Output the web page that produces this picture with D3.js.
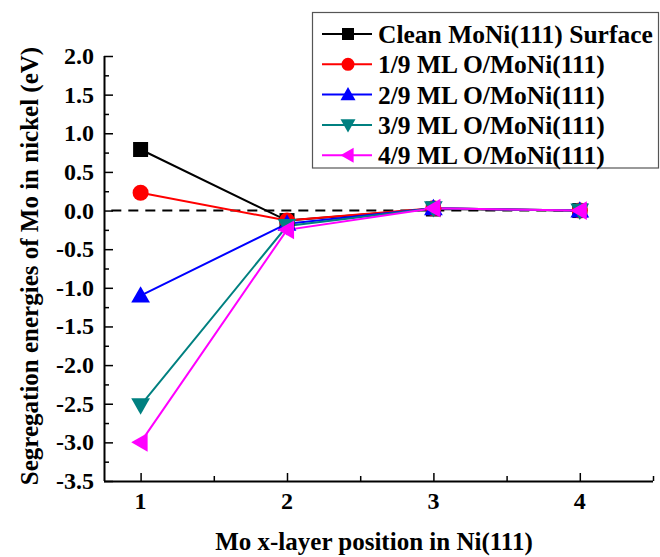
<!DOCTYPE html>
<html>
<head>
<meta charset="utf-8">
<script src="https://cdn.jsdelivr.net/npm/d3@7"></script>
<style>
body { margin: 0; background: #fff; }
</style>
</head>
<body>
<div class="contents"></div>
<script>
var width = 660;
var height = 557;

// data
var layers = [1, 2, 3, 4];
var seriesNames = ["Clean MoNi(111) Surface", "1/9 ML O/MoNi(111)", "2/9 ML O/MoNi(111)",
                   "3/9 ML O/MoNi(111)", "4/9 ML O/MoNi(111)"];
var clean = [0.79, -0.13, 0.02, 0.0];
var o19 = [0.23, -0.13, 0.03, 0.0];
var o29 = [-1.1, -0.17, 0.03, 0.0];
var o39 = [-2.52, -0.2, 0.03, 0.0];
var o49 = [-3.0, -0.25, 0.03, 0.0];
var colors = ["#000000", "#ff0000", "#0000ff", "#008080", "#ff00ff"];
var symbols = ["square", "circle", "up", "down", "left"];
var yTicks = [2.0, 1.5, 1.0, 0.5, 0.0, -0.5, -1.0, -1.5, -2.0, -2.5, -3.0, -3.5];
var xTicks = [1, 2, 3, 4];

var allSeries = [clean, o19, o29, o39, o49];
var FONT = "Liberation Serif";

var svg = d3.select(".contents").append("svg")
    .attr("width", width)
    .attr("height", height);

var x = d3.scaleLinear().domain([0.75, 4.5]).range([104, 653]);
var y = d3.scaleLinear().domain([-3.5, 2.0]).range([481, 56]);

// axes (ticks inward)
var yAxis = svg.append("g").attr("transform", "translate(104,0)")
    .call(d3.axisLeft(y).tickValues(d3.range(-3.5, 2.01, 0.25)).tickFormat(""));
yAxis.selectAll(".tick line").attr("x2", function(d){ return Math.abs(d*2 % 1) < 1e-6 ? 9 : 5; });
var xAxis = svg.append("g").attr("transform", "translate(0,481)")
    .call(d3.axisBottom(x).tickValues(d3.range(1, 4.51, 0.5)).tickFormat(""));
xAxis.selectAll(".tick line").attr("y2", function(d){ return d % 1 === 0 ? -8 : -5; });
yAxis.select(".domain").attr("d", "M0.5,56V481");
xAxis.select(".domain").attr("d", "M104,0.5H653");
svg.selectAll(".domain").attr("stroke", "#000").attr("stroke-width", 2);
svg.selectAll(".tick line").attr("stroke", "#000").attr("stroke-width", 1.5);

svg.selectAll(".ylab").data(yTicks).enter().append("text")
    .attr("x", 94).attr("y", function(d){ return y(d) + 8; })
    .attr("text-anchor", "end").attr("font-family", FONT).attr("font-weight", "bold")
    .attr("font-size", 24)
    .text(function(d){ return d3.format(".1f")(d).replace("−", "-"); });
svg.selectAll(".xlab").data(xTicks).enter().append("text")
    .attr("x", function(d){ return x(d); }).attr("y", 509)
    .attr("text-anchor", "middle").attr("font-family", FONT).attr("font-weight", "bold")
    .attr("font-size", 24)
    .text(function(d){ return d; });

svg.append("text").attr("x", 374).attr("y", 550).attr("text-anchor", "middle")
    .attr("font-family", FONT).attr("font-weight", "bold").attr("font-size", 25)
    .text("Mo x-layer position in Ni(111)");
svg.append("text").attr("transform", "translate(38,266) rotate(-90)")
    .attr("text-anchor", "middle").attr("font-family", FONT).attr("font-weight", "bold")
    .attr("font-size", 25)
    .text("Segregation energies of Mo in nickel (eV)");

// zero reference line
svg.append("line").attr("x1", x(0.8)).attr("x2", x(4)).attr("y1", y(0)).attr("y2", y(0))
    .attr("stroke", "#000").attr("stroke-width", 2).attr("stroke-dasharray", "10,7");

function marker(g, sym, color, s) {
  if (sym === "square") {
    g.append("rect").attr("x", -s).attr("y", -s).attr("width", 2*s).attr("height", 2*s).attr("fill", color);
  } else if (sym === "circle") {
    g.append("circle").attr("r", s + 0.5).attr("fill", color);
  } else {
    var a = s * 1.25;
    var pts = {
      up: [[0, -a], [a, a*0.75], [-a, a*0.75]],
      down: [[0, a], [a, -a*0.75], [-a, -a*0.75]],
      left: [[-a, 0], [a*0.75, -a], [a*0.75, a]]
    }[sym];
    g.append("polygon").attr("points", pts.map(function(p){ return p.join(","); }).join(" "))
      .attr("fill", color);
  }
}

var line = d3.line().x(function(d, i){ return x(layers[i]); }).y(function(d){ return y(d); });

allSeries.forEach(function(vals, k) {
  svg.append("path").attr("d", line(vals)).attr("fill", "none")
     .attr("stroke", colors[k]).attr("stroke-width", 2);
});
allSeries.forEach(function(vals, k) {
  vals.forEach(function(v, i) {
    var g = svg.append("g").attr("transform", "translate(" + x(layers[i]) + "," + y(v) + ")");
    marker(g, symbols[k], colors[k], 7.5);
  });
});

// legend
var leg = svg.append("g");
leg.append("rect").attr("x", 312.5).attr("y", 12.5).attr("width", 346).attr("height", 155.5)
   .attr("fill", "#fff").attr("stroke", "#555").attr("stroke-width", 1.2);
seriesNames.forEach(function(name, k) {
  var yy = 34 + k * 30.3;
  leg.append("line").attr("x1", 322).attr("x2", 372).attr("y1", yy).attr("y2", yy)
     .attr("stroke", colors[k]).attr("stroke-width", 2);
  var g = leg.append("g").attr("transform", "translate(348," + yy + ")");
  marker(g, symbols[k], colors[k], 6);
  leg.append("text").attr("x", 378).attr("y", yy + 9)
     .attr("font-family", FONT).attr("font-weight", "bold").attr("font-size", 25.5).text(name);
});
</script>
</body>
</html>
